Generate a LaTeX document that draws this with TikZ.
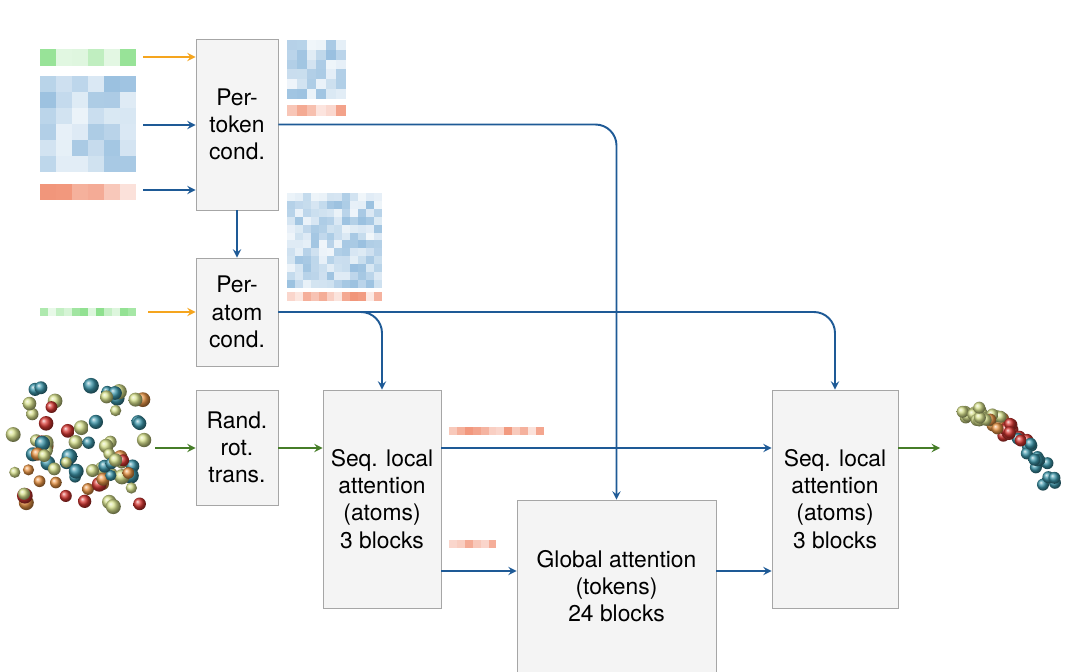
\documentclass[tikz,border=0pt]{standalone}
\usepackage{fontspec}
\setmainfont{TeX Gyre Heros}
\usetikzlibrary{positioning}

\definecolor{flowblue}{RGB}{30,90,150}
\definecolor{floworange}{RGB}{245,165,30}
\definecolor{flowgreen}{RGB}{70,125,40}
\definecolor{boxfill}{RGB}{244,244,244}
\definecolor{mapblue}{RGB}{110,165,210}
\definecolor{maporange}{RGB}{235,100,60}
\definecolor{mapgreen}{RGB}{90,210,90}
\definecolor{ballyel}{RGB}{215,225,140}
\definecolor{ballorg}{RGB}{235,150,70}
\definecolor{ballred}{RGB}{215,55,50}
\definecolor{ballteal}{RGB}{60,150,170}

\tikzset{
  box/.style={draw=gray!70, fill=boxfill, align=center, inner sep=2pt,
    font=\fontsize{13}{15.5}\selectfont},
  flow/.style={->, >=stealth, line width=1.1pt, draw=flowblue},
  cond/.style={->, >=stealth, line width=1.1pt, draw=floworange},
  geo/.style={->, >=stealth, line width=1.1pt, draw=flowgreen},
}

% heat map: x, y (top left, px), columns, rows, cell width, cell height, colour
\newcommand{\heatmap}[7]{%
  \foreach \i in {1,...,#3}{
    \foreach \j in {1,...,#4}{
      \pgfmathsetmacro{\shade}{10+60*rnd}
      \fill[#7!\shade!white] ({#1+(\i-1)*#5},{#2+(\j-1)*#6}) rectangle ++(#5,#6);
    }
  }%
}

% ball colour from a value in [0,1]
\newcommand{\pickball}[1]{%
  \ifdim#1pt<0.4pt \colorlet{ballc}{ballyel}\else
    \ifdim#1pt<0.55pt \colorlet{ballc}{ballorg}\else
      \ifdim#1pt<0.7pt \colorlet{ballc}{ballred}\else
        \colorlet{ballc}{ballteal}\fi\fi\fi}

\begin{document}
\begin{tikzpicture}[x=0.02cm, y=-0.02cm]
  \useasboundingbox (0,0) rectangle (1081,672);
  \pgfmathsetseed{7}

  % input features
  \heatmap{40}{49}{6}{1}{16}{17}{mapgreen}
  \heatmap{40}{76}{6}{6}{16}{16}{mapblue}
  \heatmap{40}{184}{6}{1}{16}{16}{maporange}
  \heatmap{40}{308}{12}{1}{8}{8}{mapgreen}
  \heatmap{287}{40}{6}{6}{9.8}{9.8}{mapblue}
  \heatmap{287}{105}{6}{1}{9.8}{11}{maporange}
  \heatmap{287}{193}{12}{12}{7.9}{7.9}{mapblue}
  \heatmap{287}{292}{12}{1}{7.9}{9}{maporange}
  \heatmap{449}{427}{12}{1}{7.9}{8}{maporange}
  \heatmap{449}{540}{6}{1}{7.9}{8}{maporange}

  % blocks
  \node[box, minimum width=1.64cm, minimum height=3.42cm] (tok) at (237,124.5) {Per-\\token\\cond.};
  \node[box, minimum width=1.64cm, minimum height=2.16cm] (atom) at (237,312) {Per-\\atom\\cond.};
  \node[box, minimum width=1.64cm, minimum height=2.30cm] (rand) at (237,447.5) {Rand.\\rot.\\trans.};
  \node[box, minimum width=2.36cm, minimum height=4.36cm] (seqL) at (382,499) {Seq. local\\attention\\(atoms)\\3 blocks};
  \node[box, minimum width=3.98cm, minimum height=3.44cm] (glob) at (616.5,586) {Global attention\\(tokens)\\24 blocks};
  \node[box, minimum width=2.52cm, minimum height=4.36cm] (seqR) at (835,499) {Seq. local\\attention\\(atoms)\\3 blocks};

  % point clouds
  \foreach \k in {1,...,75}{
    \pgfmathsetmacro{\px}{78+68*rand}
    \pgfmathsetmacro{\py}{447+62*rand}
    \pgfmathsetmacro{\hue}{rnd}
    \pgfmathsetmacro{\rr}{5.5+2.5*rnd}
    \pickball{\hue}
    \shade[ball color=ballc] (\px,\py) circle (\rr);
  }
  \foreach \k in {1,...,60}{
    \pgfmathsetmacro{\tt}{rnd}
    \pgfmathsetmacro{\px}{965+60*\tt+30*\tt*\tt+9*rand}
    \pgfmathsetmacro{\py}{418+10*\tt+55*\tt*\tt-15*sin(180*\tt)+7*rand}
    \pickball{\tt}
    \shade[ball color=ballc] (\px,\py) circle (6);
  }

  % connectors
  \coordinate (gin) at (143,57);
  \coordinate (bin) at (143,125);
  \coordinate (oin) at (143,190);
  \coordinate (ain) at (148,312);
  \coordinate (pin) at (155,448);
  \coordinate (mid) at (0,448);
  \coordinate (low) at (0,571);
  \coordinate (pout) at (940,448);
  \draw[cond] (gin) -- (tok.west |- gin);
  \draw[flow] (bin) -- (tok.west |- bin);
  \draw[flow] (oin) -- (tok.west |- oin);
  \draw[flow] (tok) -- (atom);
  \draw[cond] (ain) -- (atom.west |- ain);
  \draw[flow, rounded corners=12] (tok.east) -| (glob.north);
  \draw[flow, rounded corners=12] (atom.east) -| (seqL.north);
  \draw[flow, rounded corners=12] (atom.east) -| (seqR.north);
  \draw[geo] (pin) -- (rand.west |- mid);
  \draw[geo] (rand.east |- mid) -- (seqL.west |- mid);
  \draw[flow] (seqL.east |- mid) -- (seqR.west |- mid);
  \draw[flow] (seqL.east |- low) -- (glob.west |- low);
  \draw[flow] (glob.east |- low) -- (seqR.west |- low);
  \draw[geo] (seqR.east |- mid) -- (pout);
\end{tikzpicture}
\end{document}
